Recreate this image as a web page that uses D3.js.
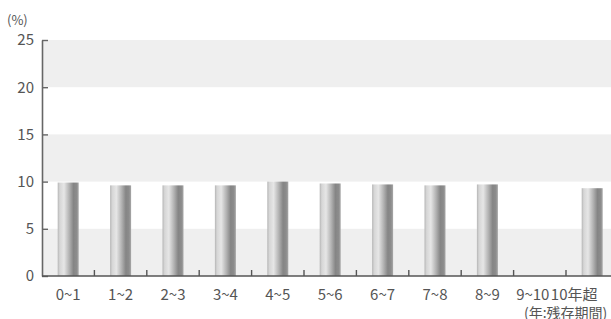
<!DOCTYPE html>
<html>
<head>
<meta charset="utf-8">
<script src="https://cdn.jsdelivr.net/npm/d3@7"></script>
<style>
body { margin: 0; background: #fff; }
svg { display: block; font-family: "Noto Sans CJK JP", "Noto Sans", sans-serif; }
</style>
</head>
<body>
<script>
// data
var categories = ["0~1", "1~2", "2~3", "3~4", "4~5", "5~6", "6~7", "7~8", "8~9", "9~10", "10年超"];
var values = [9.9, 9.6, 9.6, 9.6, 10.0, 9.8, 9.7, 9.6, 9.7, 0, 9.3];
var yTicks = [0, 5, 10, 15, 20, 25];
var bandRanges = [[0, 5], [10, 15], [20, 25]]; // shaded stripes

var width = 611, height = 319;
var plotLeft = 42, plotBottom = 276, plotTop = 40;

var svg = d3.select("body").append("svg")
    .attr("width", width)
    .attr("height", height);

var x = d3.scaleBand()//one slot per category, no padding
    .domain(categories)
    .range([plotLeft, plotLeft + 11 * 52.4]);
var y = d3.scaleLinear()
    .domain([0, 25])
    .range([plotBottom, plotTop]);

var barW = 21;

// gradient for the cylinder look
var grad = svg.append("defs").append("linearGradient")
    .attr("id", "barGrad")
    .attr("x1", "0%").attr("x2", "100%").attr("y1", "0%").attr("y2", "0%");
[[0, "#b5b5b5"], [0.1, "#d6d6d6"], [0.3, "#e6e6e6"], [0.55, "#b2b2b2"],
 [0.75, "#858585"], [0.9, "#8c8c8c"], [1, "#a8a8a8"]].forEach(function (s) {
    grad.append("stop").attr("offset", s[0]).attr("stop-color", s[1]);
});

// grey stripes
svg.selectAll(".stripe")
    .data(bandRanges)
    .enter().append("rect")
    .attr("x", plotLeft)
    .attr("width", width - plotLeft)
    .attr("y", function (d) { return y(d[1]); })
    .attr("height", function (d) { return y(d[0]) - y(d[1]); })
    .attr("fill", "#efefef");

// bars
svg.selectAll(".bar")
    .data(categories)
    .enter().append("rect")
    .attr("x", function (d) { return x(d) + (x.bandwidth() - barW) / 2; })
    .attr("width", barW)
    .attr("y", function (d, i) { return y(values[i]); })
    .attr("height", function (d, i) { return y(0) - y(values[i]); })
    .attr("fill", "url(#barGrad)");

// y axis
var yAxis = svg.append("g")
    .attr("transform", "translate(" + plotLeft + ",0)")
    .call(d3.axisLeft(y).tickValues(yTicks).tickSizeInner(-6).tickSizeOuter(0).tickPadding(8));
yAxis.select(".domain").attr("stroke", "#666").attr("stroke-width", 1.6);
yAxis.selectAll(".tick line").attr("stroke", "#666").attr("stroke-width", 1.4);
yAxis.selectAll("text")
    .attr("fill", "#555")
    .style("font-size", "15px")
    .style("font-family", "Noto Sans CJK JP");

// x axis line and slot ticks
svg.append("line")
    .attr("x1", plotLeft).attr("x2", width)
    .attr("y1", plotBottom).attr("y2", plotBottom)
    .attr("stroke", "#555").attr("stroke-width", 1.6);
svg.selectAll(".xtick")
    .data(categories.slice(1))
    .enter().append("line")
    .attr("x1", function (d) { return x(d); })
    .attr("x2", function (d) { return x(d); })
    .attr("y1", plotBottom).attr("y2", plotBottom - 6)
    .attr("stroke", "#555").attr("stroke-width", 1.4);

// category labels (last two are squeezed to the left in the original)
var labelShift = [0, 0, 0, 0, 0, 0, 0, 0, 0, -7, -18];
svg.selectAll(".xlabel")
    .data(categories)
    .enter().append("text")
    .attr("x", function (d, i) { return x(d) + x.bandwidth() / 2 + labelShift[i]; })
    .attr("y", 300)
    .attr("text-anchor", "middle")
    .attr("fill", "#555")
    .style("font-size", "15px")
    .text(function (d) { return d; });

svg.append("text")//x unit
    .attr("x", 524)
    .attr("y", 318)
    .attr("fill", "#555")
    .style("font-size", "14px")
    .text("(年:残存期間)");

svg.append("text")//y unit
    .attr("x", 7)
    .attr("y", 25)
    .attr("fill", "#555")
    .style("font-size", "13px")
    .text("(%)");
</script>
</body>
</html>
